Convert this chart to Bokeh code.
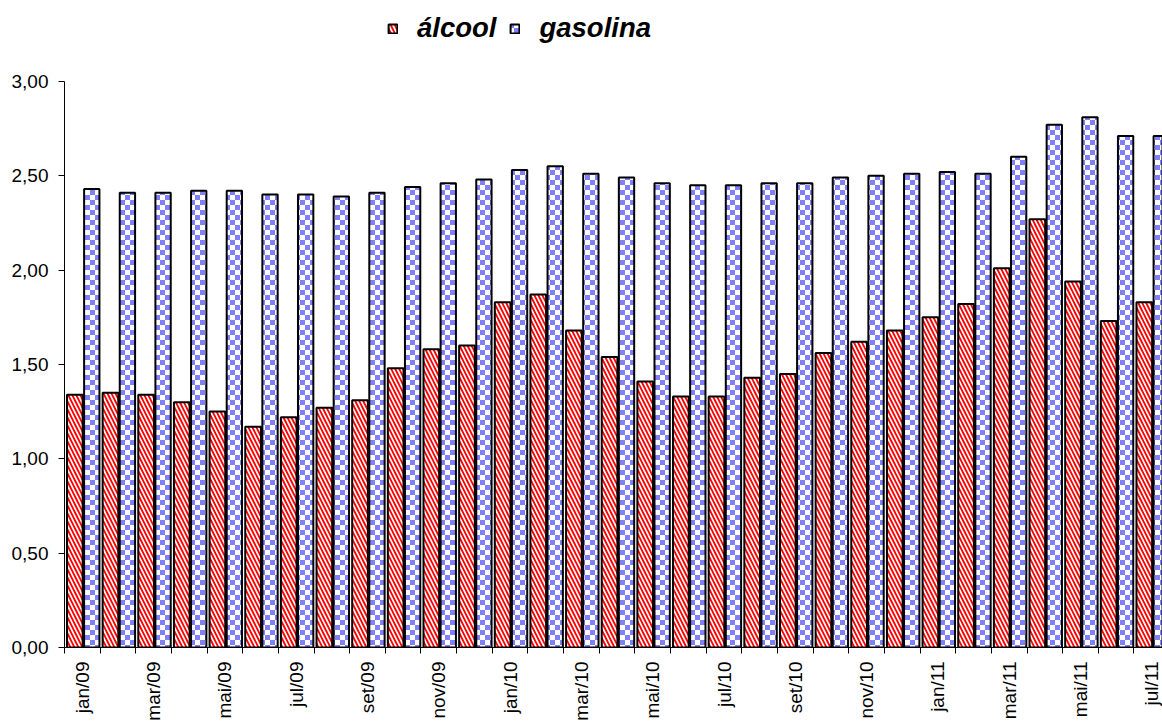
from bokeh.plotting import figure
from bokeh.models import (ColumnDataSource, FixedTicker, CustomJSTickFormatter, Range1d,
                          Legend, LegendItem, ImageURLTexture)
from bokeh.core.properties import value
from bokeh.embed import file_html
from bokeh.resources import INLINE
import math, zlib, struct, base64

months = ["jan/09", "fev/09", "mar/09", "abr/09", "mai/09", "jun/09", "jul/09", "ago/09",
          "set/09", "out/09", "nov/09", "dez/09",
          "jan/10", "fev/10", "mar/10", "abr/10", "mai/10", "jun/10", "jul/10", "ago/10",
          "set/10", "out/10", "nov/10", "dez/10",
          "jan/11", "fev/11", "mar/11", "abr/11", "mai/11", "jun/11", "jul/11"]

alcool = [1.34, 1.35, 1.34, 1.30, 1.25, 1.17, 1.22, 1.27, 1.31, 1.48, 1.58, 1.60,
          1.83, 1.87, 1.68, 1.54, 1.41, 1.33, 1.33, 1.43, 1.45, 1.56, 1.62, 1.68,
          1.75, 1.82, 2.01, 2.27, 1.94, 1.73, 1.83]

gasolina = [2.43, 2.41, 2.41, 2.42, 2.42, 2.40, 2.40, 2.39, 2.41, 2.44, 2.46, 2.48,
            2.53, 2.55, 2.51, 2.49, 2.46, 2.45, 2.45, 2.46, 2.46, 2.49, 2.50, 2.51,
            2.52, 2.51, 2.60, 2.77, 2.81, 2.71, 2.71]

y_ticks = [0, 0.5, 1.0, 1.5, 2.0, 2.5, 3.0]


def checker_png(cell=5, c1=(0x80, 0x80, 0xff), c2=(0xff, 0xff, 0xff)):
    n = cell * 2
    rows = []
    for yy in range(n):
        row = b""
        for xx in range(n):
            c = c1 if ((xx // cell) + (yy // cell)) % 2 == 0 else c2
            row += bytes(c)
        rows.append(b"\x00" + row)
    raw = b"".join(rows)

    def chunk(t, d):
        return struct.pack(">I", len(d)) + t + d + struct.pack(">I", zlib.crc32(t + d) & 0xffffffff)

    data = (b"\x89PNG\r\n\x1a\n" + chunk(b"IHDR", struct.pack(">IIBBBBB", n, n, 8, 2, 0, 0, 0))
            + chunk(b"IDAT", zlib.compress(raw)) + chunk(b"IEND", b""))
    return "data:image/png;base64," + base64.b64encode(data).decode()


idx = list(range(len(months)))
src = ColumnDataSource(dict(
    x_a=[i + 0.29 for i in idx],
    x_g=[i + 0.765 for i in idx],
    alcool=alcool,
    gasolina=gasolina,
))

p = figure(width=1162, height=723, output_backend="svg", toolbar_location=None,
           x_range=Range1d(0, 30.8), y_range=Range1d(0, 3.4286),
           min_border_left=64, min_border_top=0, min_border_bottom=75, min_border_right=0)
p.outline_line_color = None
p.xgrid.visible = False
p.ygrid.visible = False
p.background_fill_color = "white"
p.border_fill_color = "white"

checker = ImageURLTexture(url=checker_png(), repetition="repeat")

ra = p.vbar(x="x_a", top="alcool", width=0.44, bottom=0, source=src,
            fill_color="white", line_color="black", line_width=2,
            hatch_pattern="\\", hatch_color="#ff0000", hatch_scale=8, hatch_weight=1.9)
rg = p.vbar(x="x_g", top="gasolina", width=0.43, bottom=0, source=src,
            fill_color="white", line_color="black", line_width=2,
            hatch_pattern=value("checker"), hatch_extra={"checker": checker},
            hatch_color="#8080ff", hatch_scale=10)

legend = Legend(items=[LegendItem(label="álcool", renderers=[ra]),
                       LegendItem(label="gasolina", renderers=[rg])],
                orientation="horizontal", location=(323, 603),
                label_text_font="Liberation Sans", label_text_font_style="bold italic",
                label_text_font_size="27.5px", label_text_color="black",
                glyph_width=11, glyph_height=11, label_standoff=19, spacing=13,
                padding=2, margin=0, border_line_color=None, background_fill_alpha=0)
p.add_layout(legend, "center")

# y axis
p.yaxis.ticker = FixedTicker(ticks=y_ticks)
p.yaxis.bounds = (0, 3)
p.yaxis.formatter = CustomJSTickFormatter(code="return tick.toFixed(2).replace('.', ',');")
p.yaxis.major_label_text_font = "Liberation Sans"
p.yaxis.major_label_text_font_size = "19px"
p.yaxis.major_label_text_color = "black"
p.yaxis.axis_line_color = "black"
p.yaxis.major_tick_line_color = "black"
p.yaxis.major_tick_out = 6
p.yaxis.major_tick_in = 0
p.yaxis.minor_tick_line_color = None
p.yaxis.major_label_standoff = 10

# x axis
p.xaxis.ticker = FixedTicker(ticks=[i + 0.5 for i in range(0, len(months), 2)],
                             minor_ticks=list(range(0, len(months) + 1)))
p.xaxis.formatter = CustomJSTickFormatter(args=dict(labels=months),
                                          code="return labels[Math.floor(tick)];")
p.xaxis.major_label_orientation = math.pi / 2
p.xaxis.major_label_text_font = "Liberation Sans"
p.xaxis.major_label_text_font_size = "19px"
p.xaxis.major_label_text_color = "black"
p.xaxis.axis_line_color = "black"
p.xaxis.major_tick_line_color = None
p.xaxis.major_tick_out = 0
p.xaxis.major_tick_in = 0
p.xaxis.minor_tick_line_color = "black"
p.xaxis.minor_tick_out = 6
p.xaxis.minor_tick_in = 0
p.xaxis.major_label_standoff = 8

open("out.html", "w").write(file_html(p, INLINE))
